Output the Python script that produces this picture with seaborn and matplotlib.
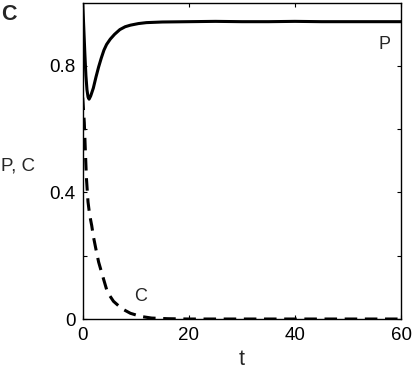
import numpy as np
import pandas as pd
import matplotlib
matplotlib.use("Agg")
import matplotlib.pyplot as plt
import seaborn as sns

# ---- data ----
t_P = [0, 0.2, 0.4, 0.6, 0.8, 1.0, 1.2, 1.5, 2.0, 2.5, 3.0, 3.5, 4.0, 4.5, 5.2,
       6.0, 7.0, 8.0, 9.0, 10.5, 12, 15, 20, 25, 30, 35, 40, 45, 50, 55, 60]
P_vals = [1.0, 0.92, 0.84, 0.77, 0.725, 0.702, 0.695, 0.705, 0.73, 0.765, 0.797,
          0.825, 0.85, 0.868, 0.885, 0.90, 0.915, 0.924, 0.929, 0.934, 0.937,
          0.939, 0.94, 0.941, 0.94, 0.94, 0.941, 0.94, 0.94, 0.94, 0.94]
t_C = [0, 0.3, 0.5, 0.7, 1.0, 1.3, 1.7, 2.0, 2.45, 3.0, 3.6, 4.65, 5.8, 7.35,
       9, 11, 13, 16, 20, 30, 40, 50, 60]
C_vals = [0.70, 0.62, 0.53, 0.445, 0.37, 0.33, 0.295, 0.262, 0.224, 0.18, 0.145,
          0.085, 0.056, 0.033, 0.018, 0.008, 0.003, 0.001, 0.0, 0.0, 0.0, 0.0,
          0.0]
x_ticks = [0, 20, 40, 60]
y_ticks = [0, 0.2, 0.4, 0.6, 0.8]
y_tick_labels = ["0", "", "0.4", "", "0.8"]

df = pd.concat([
    pd.DataFrame({"t": t_P, "value": P_vals, "var": "P"}),
    pd.DataFrame({"t": t_C, "value": C_vals, "var": "C"}),
], ignore_index=True)

sns.set_style("ticks")
plt.rcParams["font.family"] = ["Liberation Sans", "DejaVu Sans"]

fig = plt.figure(figsize=(4.14, 3.70), dpi=100)
ax = fig.add_axes([0.1998, 0.1378, 0.9686 - 0.1998, 0.9927 - 0.1378])

sns.lineplot(data=df, x="t", y="value", style="var", style_order=["P", "C"],
             dashes=[(1, 0), (4.1, 2.5)], color="black", linewidth=2.2,
             legend=False, ax=ax, sort=False, estimator=None)

ax.set_xlim(0, 60)
ax.set_ylim(0, 1.0)
ax.set_xticks(x_ticks)
ax.set_xticklabels([str(v) for v in x_ticks])
ax.set_yticks(y_ticks)
ax.set_yticklabels(y_tick_labels)
ax.tick_params(direction="in", length=3, width=0.8, top=True, right=True,
               labelsize=13.5, pad=5, colors="black")
ax.tick_params(axis="x", pad=6)
for s in ax.spines.values():
    s.set_linewidth(1.0)
    s.set_color("black")

ax.set_xlabel("t", fontsize=15.5, labelpad=3)
ax.set_ylabel("P, C", fontsize=13.5, rotation=0, ha="left", va="center")
ax.yaxis.set_label_coords(-0.257, 0.485)

ax.text(56.8, 0.869, "P", fontsize=13, ha="center", va="center")
ax.text(10.9, 0.071, "C", fontsize=13, ha="center", va="center")
fig.text(1.5 / 414, 1 - 14.5 / 370, "C", fontsize=15.5, fontweight="bold",
         ha="left", va="center")

fig.savefig("out.png", dpi=100)
